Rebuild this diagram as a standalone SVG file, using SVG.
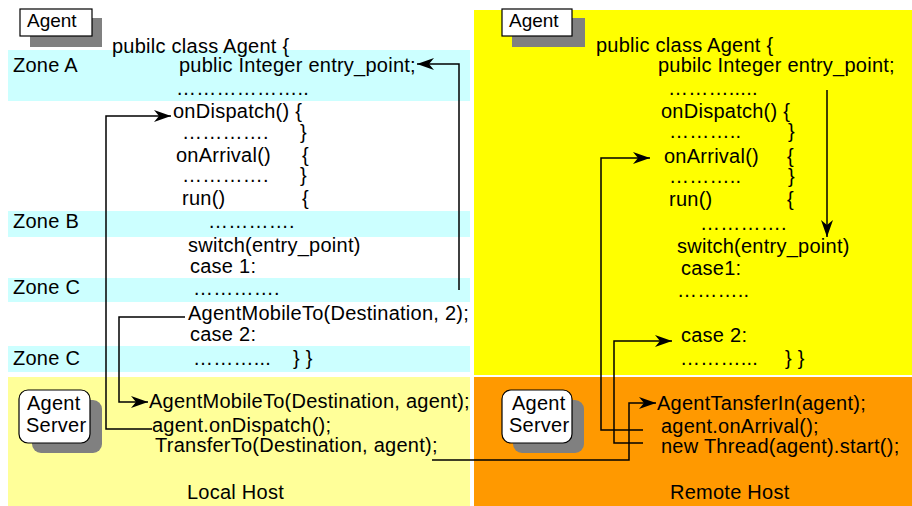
<svg xmlns="http://www.w3.org/2000/svg" width="912" height="506" viewBox="0 0 912 506">
<style>
.t{font-family:"Liberation Sans",Arial,sans-serif;font-size:20px;letter-spacing:0.25px;fill:#000}
.lbl{font-family:"Liberation Sans",Arial,sans-serif;font-size:19px;fill:#000}
.zone{fill:#CCFFFF}
.shadow{fill:#808080}
.box{fill:#fff;stroke:#000;stroke-width:1.2}
.c{fill:none;stroke:#000;stroke-width:1.5}
</style>
<defs>
<marker id="arr" viewBox="-18 -7 19 14" refX="0" refY="0" markerWidth="19" markerHeight="14" markerUnits="userSpaceOnUse" orient="auto">
<path d="M0,0 L-17,-6 L-12,0 L-17,6 Z" fill="#000"/>
</marker>
</defs>
<rect width="912" height="506" fill="#fff"/>

<g id="local-host">
<rect class="zone" x="8" y="50" width="462" height="51"/>
<rect class="zone" x="8" y="211" width="462" height="26"/>
<rect class="zone" x="8" y="278" width="462" height="24"/>
<rect class="zone" x="8" y="346" width="462" height="26"/>
<rect x="8" y="377" width="462" height="129" fill="#FFFF99"/>
<text class="t" x="13" y="72">Zone A</text>
<text class="t" x="13" y="228">Zone B</text>
<text class="t" x="13" y="294">Zone C</text>
<text class="t" x="13" y="365">Zone C</text>
<text class="t" x="187" y="499">Local Host</text>
</g>

<g id="remote-host">
<rect x="474" y="10" width="438" height="365" fill="#FFFF00"/>
<rect x="474" y="377" width="438" height="129" fill="#FF9900"/>
<text class="t" x="670" y="499">Remote Host</text>
</g>

<g id="agent-left">
<rect class="shadow" x="30" y="18" width="72" height="29"/>
<rect class="box" x="20" y="9" width="72" height="27"/>
<text class="lbl" x="27" y="27">Agent</text>
</g>

<g id="agent-right">
<rect class="shadow" x="512" y="18" width="73" height="29"/>
<rect class="box" x="502" y="9" width="70" height="27"/>
<text class="lbl" x="509" y="27">Agent</text>
</g>

<g id="agent-server-left">
<rect class="shadow" x="32" y="400" width="70" height="53" rx="9"/>
<rect class="box" x="19" y="390" width="71" height="53" rx="9"/>
<text class="t" x="27" y="410">Agent</text>
<text class="t" x="26" y="432">Server</text>
</g>

<g id="agent-server-right">
<rect class="shadow" x="513" y="400" width="71" height="53" rx="9"/>
<rect class="box" x="502" y="390" width="70" height="53" rx="9"/>
<text class="t" x="512" y="410">Agent</text>
<text class="t" x="509" y="432">Server</text>
</g>

<g id="code-left">
<text class="t" x="112" y="53">pubilc class Agent {</text>
<text class="t" x="179" y="72">public Integer entry_point;</text>
<text class="t" x="176" y="95">………………..</text>
<text class="t" x="173" y="118">onDispatch() {</text>
<text class="t" x="182" y="139">………….</text>
<text class="t" x="300" y="139">}</text>
<text class="t" x="176" y="162">onArrival()</text>
<text class="t" x="302" y="162">{</text>
<text class="t" x="182" y="182">………….</text>
<text class="t" x="300" y="182">}</text>
<text class="t" x="182" y="205">run()</text>
<text class="t" x="302" y="205">{</text>
<text class="t" x="208" y="228">………….</text>
<text class="t" x="188" y="252">switch(entry_point)</text>
<text class="t" x="190" y="273">case 1:</text>
<text class="t" x="193" y="295">………….</text>
<text class="t" x="188" y="320">AgentMobileTo(Destination, 2);</text>
<text class="t" x="190" y="341">case 2:</text>
<text class="t" x="193" y="365">………...</text>
<text class="t" x="293" y="365">} }</text>
<text class="t" x="149" y="408">AgentMobileTo(Destination, agent);</text>
<text class="t" x="152" y="432">agent.onDispatch();</text>
<text class="t" x="155" y="452">TransferTo(Destination, agent);</text>
</g>

<g id="code-right">
<text class="t" x="596" y="52">public class Agent {</text>
<text class="t" x="658" y="72">pubilc Integer entry_point;</text>
<text class="t" x="668" y="95">……….....</text>
<text class="t" x="661" y="118">onDispatch() {</text>
<text class="t" x="669" y="138">………..</text>
<text class="t" x="788" y="138">}</text>
<text class="t" x="664" y="163">onArrival()</text>
<text class="t" x="787" y="163">{</text>
<text class="t" x="669" y="183">………..</text>
<text class="t" x="788" y="183">}</text>
<text class="t" x="669" y="206">run()</text>
<text class="t" x="787" y="206">{</text>
<text class="t" x="700" y="230">………….</text>
<text class="t" x="677" y="253">switch(entry_point)</text>
<text class="t" x="681" y="275">case1:</text>
<text class="t" x="677" y="297">………..</text>
<text class="t" x="681" y="342">case 2:</text>
<text class="t" x="680" y="365">………...</text>
<text class="t" x="785" y="365">} }</text>
<text class="t" x="657" y="410">AgentTansferIn(agent);</text>
<text class="t" x="661" y="433">agent.onArrival();</text>
<text class="t" x="661" y="453">new Thread(agent).start();</text>
</g>

<g id="connectors">
<polyline class="c" points="459,290 459,64 417,64" marker-end="url(#arr)"/>
<polyline class="c" points="152,429 106,429 106,116 171,116" marker-end="url(#arr)"/>
<polyline class="c" points="185,317 119,317 119,402 148,402" marker-end="url(#arr)"/>
<polyline class="c" points="432,460 629,460 629,403 656,403" marker-end="url(#arr)"/>
<polyline class="c" points="827,90 827,237" marker-end="url(#arr)"/>
<polyline class="c" points="643,430 601,430 601,158 650,158" marker-end="url(#arr)"/>
<polyline class="c" points="643,443 614,443 614,341 672,341" marker-end="url(#arr)"/>
</g>
</svg>
